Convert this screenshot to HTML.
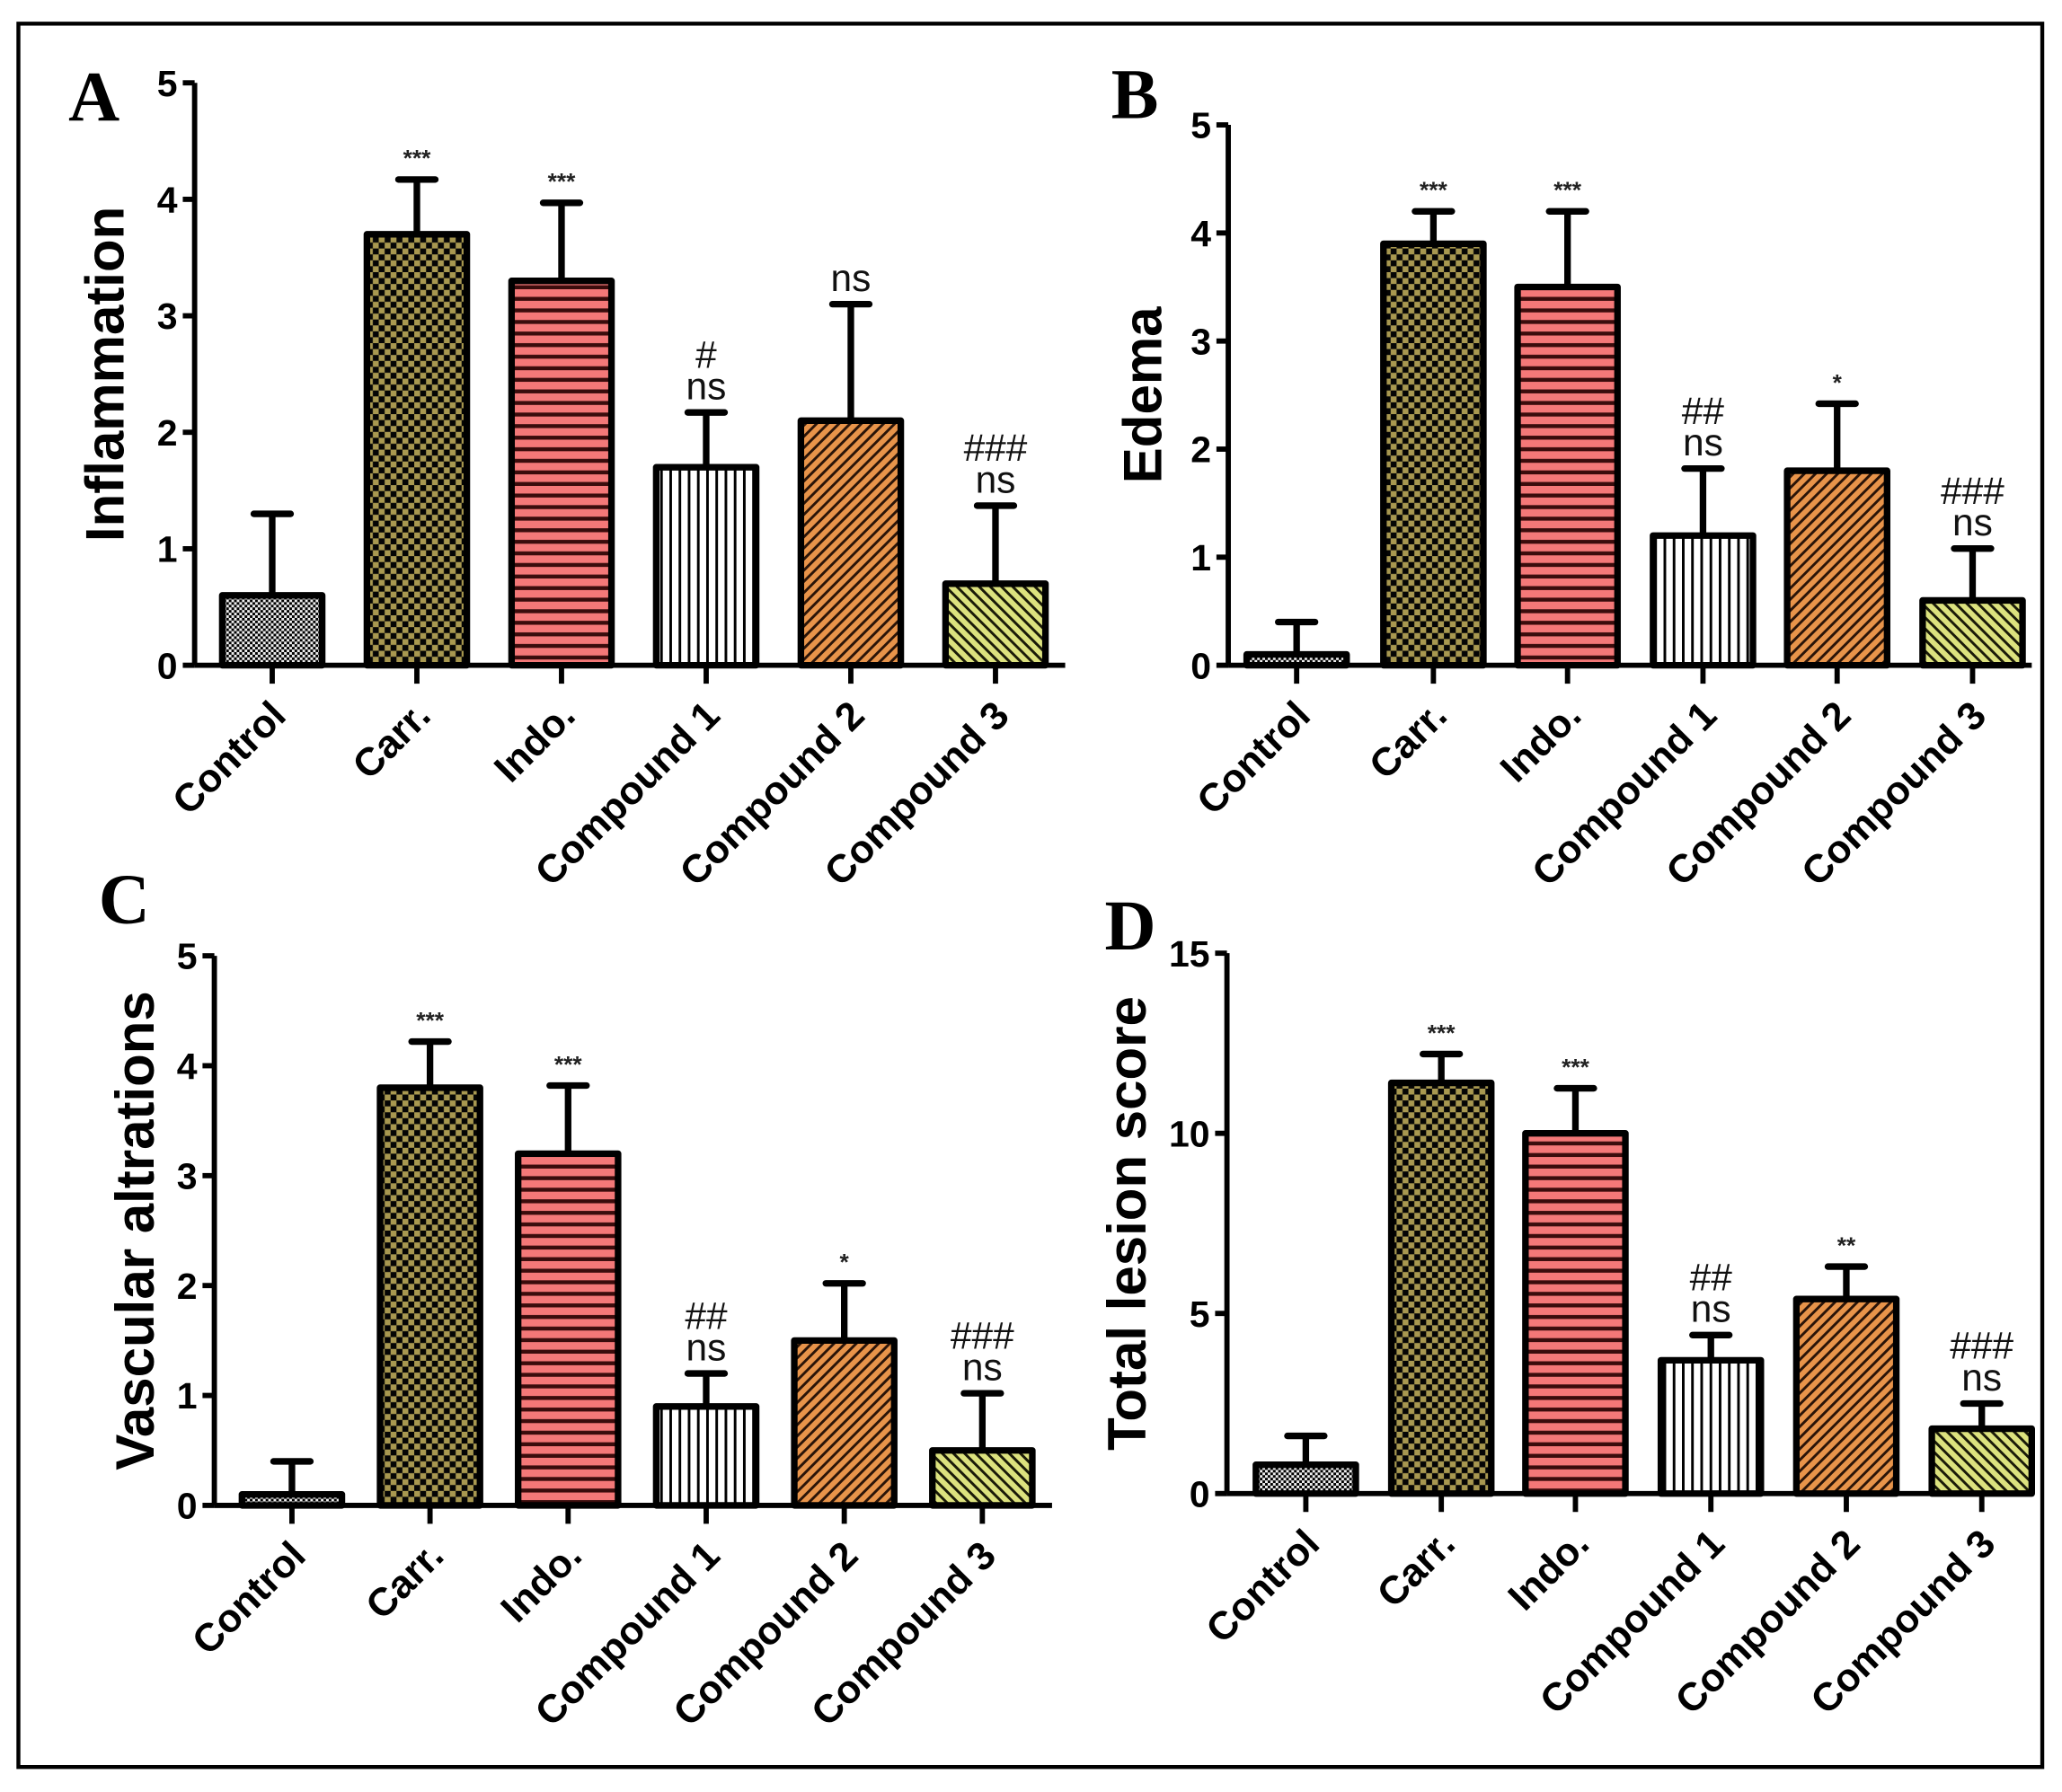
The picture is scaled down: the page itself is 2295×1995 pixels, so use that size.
<!DOCTYPE html>
<html><head><meta charset="utf-8">
<style>html,body{margin:0;padding:0;background:#fff;}svg{display:block;}</style>
</head><body>
<svg id="s" width="2295" height="1995" viewBox="0 0 1568 1363" preserveAspectRatio="none" xmlns="http://www.w3.org/2000/svg">
<defs>
<pattern id="pCtl" width="4" height="4" patternUnits="userSpaceOnUse"><rect width="4" height="4" fill="#000"/><rect width="2" height="2" fill="#eee"/><rect x="2" y="2" width="2" height="2" fill="#eee"/></pattern>
<pattern id="pCarr" width="9" height="9" patternUnits="userSpaceOnUse"><rect width="9" height="9" fill="#050505"/><rect width="4.5" height="4.5" fill="#a89850"/><rect x="4.5" y="4.5" width="4.5" height="4.5" fill="#a89850"/></pattern>
<pattern id="pIndo" width="9" height="8.8" patternUnits="userSpaceOnUse"><rect width="9" height="8.8" fill="#f47878"/><rect y="5.8" width="9" height="3" fill="#3a0c0c"/></pattern>
<pattern id="pC1" width="7" height="7" patternUnits="userSpaceOnUse"><rect width="7" height="7" fill="#fff"/><rect x="5" width="2" height="7" fill="#000"/></pattern>
<pattern id="pC2" width="6" height="6" patternUnits="userSpaceOnUse" patternTransform="rotate(45)"><rect width="6" height="6" fill="#e8944a"/><rect width="2" height="6" fill="#2a1408"/></pattern>
<pattern id="pC3" width="6" height="6" patternUnits="userSpaceOnUse" patternTransform="rotate(-45)"><rect width="6" height="6" fill="#dce27e"/><rect width="2" height="6" fill="#1a1a08"/></pattern>
</defs>
<rect x="14" y="18" width="1539" height="1326" fill="none" stroke="#000" stroke-width="3"/>
<g id="g"></g>
</svg>
<script>
var NS="http://www.w3.org/2000/svg",g=document.getElementById('g');
function el(t,a,txt){var e=document.createElementNS(NS,t);for(var k in a)e.setAttribute(k,a[k]);if(txt!=null)e.textContent=txt;g.appendChild(e);return e;}
var pats=['pCtl','pCarr','pIndo','pC1','pC2','pC3'];
var names=['Control','Carr.','Indo.','Compound 1','Compound 2','Compound 3'];
var panels=[
{L:'A',lx:52,ly:92,ax:148,top:63,zero:506,max:5,step:1,end:810,cx:[207,317,427,537,647,757],
 m:[0.6,3.7,3.3,1.7,2.1,0.7],e:[1.3,4.17,3.97,2.17,3.1,1.37],yl:'Inflammation',ylx:94,
 ann:[[],['***'],['***'],['#','ns'],['ns'],['###','ns']]},
{L:'B',lx:845,ly:90,ax:934,top:95,zero:506,max:5,step:1,end:1545,cx:[986,1090,1192,1295,1397,1500],
 m:[0.1,3.9,3.5,1.2,1.8,0.6],e:[0.4,4.2,4.2,1.82,2.42,1.08],yl:'Edema',ylx:883,
 ann:[[],['***'],['***'],['##','ns'],['*'],['###','ns']]},
{L:'C',lx:75,ly:702,ax:163,top:727,zero:1145,max:5,step:1,end:800,cx:[222,327,432,537,642,747],
 m:[0.1,3.8,3.2,0.9,1.5,0.5],e:[0.4,4.22,3.82,1.2,2.02,1.02],yl:'Vascular altrations',ylx:117,
 ann:[[],['***'],['***'],['##','ns'],['*'],['###','ns']]},
{L:'D',lx:840,ly:722,ax:933,top:725,zero:1136,max:15,step:5,end:1545,cx:[993,1096,1198,1301,1404,1507],
 m:[0.8,11.4,10,3.7,5.4,1.8],e:[1.6,12.2,11.25,4.4,6.3,2.5],yl:'Total lesion score',ylx:871,
 ann:[[],['***'],['***'],['##','ns'],['**'],['###','ns']]}
];
var F='Liberation Sans, Arial, sans-serif';
panels.forEach(function(p){
 var sc=(p.zero-p.top)/p.max;
 el('text',{x:p.lx,y:p.ly,'font-family':'Liberation Serif, serif','font-weight':'bold','font-size':54},p.L);
 for(var i=0;i<6;i++){
  var c=p.cx[i],yt=p.zero-p.m[i]*sc,ye=p.zero-p.e[i]*sc;
  el('line',{x1:c,y1:ye,x2:c,y2:yt,stroke:'#000','stroke-width':5});
  el('line',{x1:c-14,y1:ye,x2:c+14,y2:ye,stroke:'#000','stroke-width':5,'stroke-linecap':'round'});
  el('rect',{x:c-38,y:yt,width:76,height:p.zero-yt,fill:'url(#'+pats[i]+')',stroke:'#000','stroke-width':5,'stroke-linejoin':'round'});
  var a=p.ann[i];
  if(a.length){
   var y=ye-10;
   for(var j=a.length-1;j>=0;j--){
    var t=a[j];
    if(t[0]=='*'){el('text',{x:c,y:y,'text-anchor':'middle','font-family':F,'font-size':18,'font-weight':'bold',fill:'#222'},t);y-=14;}
    else {el('text',{x:c,y:y,'text-anchor':'middle','font-family':F,'font-size':29,fill:'#111'},t);y-=24;}
   }
  }
  el('line',{x1:c,y1:p.zero,x2:c,y2:p.zero+14,stroke:'#000','stroke-width':4});
  var lx=c+12,ly=p.zero+40;
  el('text',{x:lx,y:ly,'text-anchor':'end','font-family':F,'font-weight':'bold','font-size':30,transform:'rotate(-45 '+lx+' '+ly+')'},names[i]);
 }
 el('line',{x1:p.ax,y1:p.top,x2:p.ax,y2:p.zero,stroke:'#000','stroke-width':4});
 el('line',{x1:p.ax,y1:p.zero,x2:p.end,y2:p.zero,stroke:'#000','stroke-width':4});
 for(var v=0;v<=p.max;v+=p.step){
  var y=p.zero-v*sc;
  el('line',{x1:p.ax-9,y1:y,x2:p.ax,y2:y,stroke:'#000','stroke-width':4});
  el('text',{x:p.ax-13,y:y+10,'text-anchor':'end','font-family':F,'font-weight':'bold','font-size':28},String(v));
 }
 var my=(p.top+p.zero)/2;
 el('text',{x:p.ylx,y:my,'text-anchor':'middle','font-family':F,'font-weight':'bold','font-size':41,transform:'rotate(-90 '+p.ylx+' '+my+')'},p.yl);
});
</script>
</body></html>
